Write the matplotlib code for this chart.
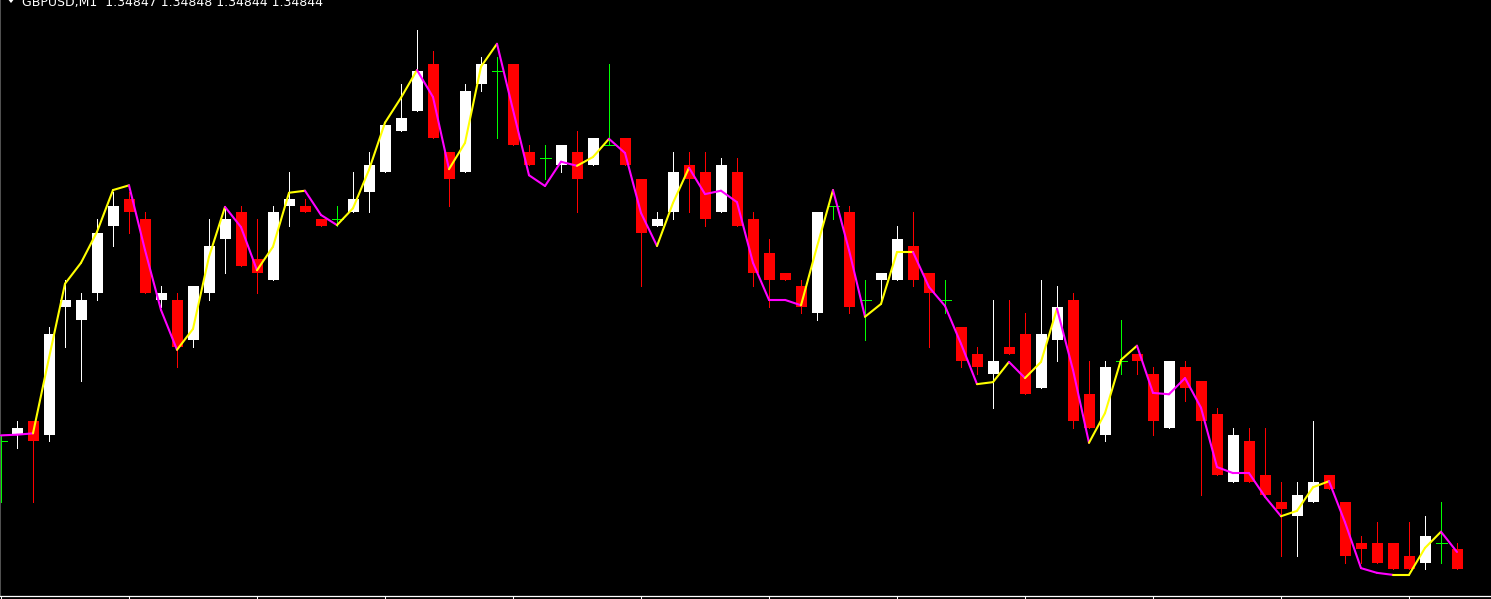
import matplotlib
matplotlib.use("Agg")
import matplotlib.pyplot as plt
from matplotlib.collections import LineCollection
from matplotlib.patches import Polygon
import numpy as np

symbol = "GBPUSD,M1"

opens = [1.34863, 1.34864, 1.34866, 1.34864, 1.34883, 1.34881, 1.34885, 1.34895, 1.34899, 1.34896,
         1.34884, 1.34884, 1.34878, 1.34885, 1.34893, 1.34897, 1.34890, 1.34887, 1.34898, 1.34898,
         1.34896, 1.34896, 1.34897, 1.34900, 1.34903, 1.34909, 1.34912, 1.34919, 1.34906, 1.34903,
         1.34916, 1.34918, 1.34919, 1.34906, 1.34905, 1.34904, 1.34906, 1.34904, 1.34907, 1.34908,
         1.34902, 1.34895, 1.34897, 1.34904, 1.34903, 1.34897, 1.34903, 1.34896, 1.34891, 1.34888,
         1.34886, 1.34882, 1.34898, 1.34897, 1.34884, 1.34887, 1.34887, 1.34892, 1.34888, 1.34884,
         1.34880, 1.34876, 1.34873, 1.34877, 1.34879, 1.34871, 1.34878, 1.34884, 1.34870, 1.34864,
         1.34875, 1.34876, 1.34873, 1.34865, 1.34874, 1.34872, 1.34867, 1.34857, 1.34863, 1.34858,
         1.34854, 1.34852, 1.34854, 1.34858, 1.34854, 1.34848, 1.34848, 1.34848, 1.34846, 1.34845,
         1.34848, 1.34847]

highs = [1.34864, 1.34866, 1.34866, 1.34880, 1.34887, 1.34885, 1.34896, 1.34900, 1.34900, 1.34897,
         1.34886, 1.34885, 1.34886, 1.34896, 1.34898, 1.34898, 1.34896, 1.34898, 1.34903, 1.34899,
         1.34896, 1.34898, 1.34903, 1.34906, 1.34910, 1.34916, 1.34924, 1.34921, 1.34906, 1.34916,
         1.34920, 1.34920, 1.34919, 1.34907, 1.34907, 1.34907, 1.34909, 1.34908, 1.34919, 1.34908,
         1.34902, 1.34897, 1.34906, 1.34906, 1.34906, 1.34905, 1.34905, 1.34897, 1.34893, 1.34888,
         1.34887, 1.34897, 1.34898, 1.34898, 1.34887, 1.34888, 1.34895, 1.34897, 1.34888, 1.34887,
         1.34880, 1.34877, 1.34884, 1.34884, 1.34882, 1.34887, 1.34886, 1.34885, 1.34875, 1.34875,
         1.34881, 1.34876, 1.34874, 1.34875, 1.34875, 1.34872, 1.34868, 1.34865, 1.34865, 1.34865,
         1.34857, 1.34857, 1.34866, 1.34858, 1.34854, 1.34849, 1.34851, 1.34848, 1.34851, 1.34852,
         1.34854, 1.34848]

lows = [1.34854, 1.34862, 1.34854, 1.34863, 1.34877, 1.34872, 1.34884, 1.34892, 1.34894, 1.34885,
        1.34883, 1.34874, 1.34877, 1.34884, 1.34888, 1.34889, 1.34885, 1.34887, 1.34895, 1.34897,
        1.34895, 1.34895, 1.34897, 1.34897, 1.34903, 1.34909, 1.34912, 1.34908, 1.34898, 1.34903,
        1.34915, 1.34908, 1.34907, 1.34904, 1.34902, 1.34903, 1.34897, 1.34904, 1.34907, 1.34904,
        1.34886, 1.34895, 1.34896, 1.34897, 1.34895, 1.34897, 1.34895, 1.34886, 1.34883, 1.34887,
        1.34882, 1.34881, 1.34896, 1.34882, 1.34878, 1.34884, 1.34887, 1.34886, 1.34877, 1.34882,
        1.34874, 1.34873, 1.34868, 1.34876, 1.34870, 1.34871, 1.34875, 1.34865, 1.34865, 1.34863,
        1.34873, 1.34873, 1.34864, 1.34865, 1.34869, 1.34855, 1.34858, 1.34857, 1.34857, 1.34855,
        1.34846, 1.34846, 1.34854, 1.34856, 1.34845, 1.34845, 1.34845, 1.34844, 1.34844, 1.34844,
        1.34845, 1.34844]

closes = [1.34863, 1.34865, 1.34863, 1.34879, 1.34884, 1.34884, 1.34894, 1.34898, 1.34897, 1.34885,
          1.34885, 1.34877, 1.34886, 1.34892, 1.34896, 1.34889, 1.34888, 1.34897, 1.34899, 1.34897,
          1.34895, 1.34896, 1.34899, 1.34904, 1.34910, 1.34911, 1.34918, 1.34908, 1.34902, 1.34915,
          1.34919, 1.34918, 1.34907, 1.34904, 1.34905, 1.34907, 1.34902, 1.34908, 1.34907, 1.34904,
          1.34894, 1.34896, 1.34903, 1.34902, 1.34896, 1.34904, 1.34895, 1.34888, 1.34887, 1.34887,
          1.34883, 1.34897, 1.34898, 1.34883, 1.34884, 1.34888, 1.34893, 1.34887, 1.34885, 1.34884,
          1.34875, 1.34874, 1.34875, 1.34876, 1.34870, 1.34879, 1.34883, 1.34866, 1.34865, 1.34874,
          1.34875, 1.34875, 1.34866, 1.34875, 1.34871, 1.34866, 1.34858, 1.34864, 1.34857, 1.34855,
          1.34853, 1.34855, 1.34857, 1.34856, 1.34846, 1.34847, 1.34845, 1.34844, 1.34844, 1.34849,
          1.34848, 1.34844]

# smoothed indicator line drawn over the candles
line_vals = [1.348639, 1.348640, 1.348642, 1.348754, 1.348864, 1.348895, 1.348941, 1.349003, 1.349010, 1.348914,
             1.348825, 1.348766, 1.348797, 1.348904, 1.348978, 1.348948, 1.348884, 1.348919, 1.348999, 1.349002,
             1.348966, 1.348951, 1.348976, 1.349033, 1.349103, 1.349140, 1.349181, 1.349141, 1.349034, 1.349073,
             1.349186, 1.349220, 1.349122, 1.349025, 1.349009, 1.349045, 1.349039, 1.349052, 1.349079, 1.349058,
             1.348969, 1.348920, 1.348984, 1.349036, 1.348997, 1.349002, 1.348985, 1.348895, 1.348840, 1.348840,
             1.348832, 1.348919, 1.349003, 1.348914, 1.348815, 1.348834, 1.348911, 1.348911, 1.348859, 1.348831,
             1.348775, 1.348715, 1.348718, 1.348748, 1.348724, 1.348748, 1.348827, 1.348736, 1.348628, 1.348672,
             1.348751, 1.348772, 1.348702, 1.348700, 1.348724, 1.348680, 1.348592, 1.348583, 1.348583, 1.348548,
             1.348519, 1.348527, 1.348562, 1.348571, 1.348510, 1.348442, 1.348435, 1.348432, 1.348432, 1.348472,
             1.348496, 1.348466]

# indicator state of each segment: y = up (yellow), m = down (magenta)
line_trend = ("mmyyyyyymmmyyym"
              "myyymmyyyyymmyyy"
              "mmmmmyymmmyymmmmmmm"
              "yymmyyymmmmyymyymmyyy"
              "mmmmmmmmmyyymmmmyyym")

W, H = 1491, 599
AX_BOTTOM_PX = 595.5

BULL = "#FFFFFF"
BEAR = "#FF0000"
DOJI = "#00FF00"
UP = "#FFFF00"
DOWN = "#FF00FF"

fig = plt.figure(figsize=(W / 100, H / 100), dpi=100, facecolor="black")
ax = fig.add_axes([0, (H - AX_BOTTOM_PX) / H, 1, AX_BOTTOM_PX / H])
ax.set_facecolor("black")

n = len(opens)
x = np.arange(n)
o = np.array(opens)
h = np.array(highs)
l = np.array(lows)
c = np.array(closes)

colors = np.where(c > o, BULL, np.where(c < o, BEAR, DOJI))
body_w = 11 / 16

# wicks
ax.vlines(x, l, h, colors=colors, linewidth=0.55, zorder=1, antialiased=False)
# bodies
not_doji = c != o
ax.bar(x[not_doji], np.abs(c - o)[not_doji], bottom=np.minimum(o, c)[not_doji],
       width=body_w, color=colors[not_doji], linewidth=0, zorder=2, antialiased=False)
# doji bars
dj = ~not_doji
ax.hlines(o[dj], x[dj] - body_w / 2, x[dj] + body_w / 2, colors=DOJI,
          linewidth=0.55, zorder=2, antialiased=False)

# indicator line, coloured per segment
lv = np.array(line_vals)
segs = [[(x[i], lv[i]), (x[i + 1], lv[i + 1])] for i in range(n - 1)]
seg_cols = [UP if t == "y" else DOWN for t in line_trend]
ax.add_collection(LineCollection(segs, colors=seg_cols, linewidths=1.5, zorder=3,
                                 capstyle="round", joinstyle="round"))

ax.set_xlim(-1 / 16, (W - 1) / 16)
ax.set_ylim(1.3484014, 1.349285)

ax.set_xticks(x[::8])
ax.set_yticks([])
ax.tick_params(axis="x", direction="out", length=3, width=0.75, color="white",
               labelbottom=False)
for s in ("top", "right"):
    ax.spines[s].set_visible(False)
ax.spines["bottom"].set_color("white")
ax.spines["bottom"].set_linewidth(0.9)
ax.spines["left"].set_color("#505050")
ax.spines["left"].set_linewidth(0.75)

header = f"{symbol}  {opens[-1]:.5f} {highs[-1]:.5f} {lows[-1]:.5f} {closes[-1]:.5f}"
fig.text(22 / W, 1 - 6 / H, header, color="white", fontsize=9.0,
         family="DejaVu Sans", ha="left", va="baseline")
tri = Polygon([(7 / W, 1 + 2 / H), (15 / W, 1 + 2 / H), (11 / W, 1 - 3 / H)],
              closed=True, facecolor="white", edgecolor="none",
              transform=fig.transFigure)
fig.patches.append(tri)

fig.savefig("out.png", dpi=100, facecolor="black")
